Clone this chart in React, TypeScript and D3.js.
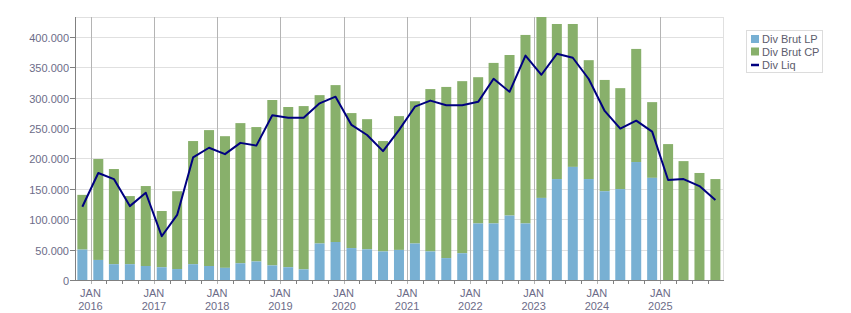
import * as d3 from "d3";

// quarterly dividends, in euros
const quarters = [
  "2015-11", "2016-02", "2016-05", "2016-08", "2016-11", "2017-02", "2017-05", "2017-08",
  "2017-11", "2018-02", "2018-05", "2018-08", "2018-11", "2019-02", "2019-05", "2019-08",
  "2019-11", "2020-02", "2020-05", "2020-08", "2020-11", "2021-02", "2021-05", "2021-08",
  "2021-11", "2022-02", "2022-05", "2022-08", "2022-11", "2023-02", "2023-05", "2023-08",
  "2023-11", "2024-02", "2024-05", "2024-08", "2024-11", "2025-02", "2025-05", "2025-08",
  "2025-11",
];

const divBrutLP = [
  50000, 33000, 26000, 26000, 23000, 21000, 18000, 26000, 23000, 20000, 27500, 30500,
  24000, 21000, 17500, 60000, 62500, 52500, 50500, 47000, 49500, 60000, 47000, 36000,
  44000, 93000, 93000, 106000, 93000, 135000, 166000, 186000, 166000, 146000, 149500,
  194000, 168000, 0, 0, 0, 0,
];

const divBrutCP = [
  90000, 166000, 156500, 112000, 131500, 92500, 128000, 202500, 223500, 216500, 230500,
  221000, 272000, 263500, 268500, 244000, 258000, 222000, 214000, 181500, 220000, 234000,
  267000, 281500, 283000, 240500, 264000, 264000, 310000, 298000, 255000, 235000, 195500,
  183000, 166000, 186000, 124500, 223500, 195500, 176000, 166000,
];

const divLiq = [
  120500, 176000, 166000, 121500, 143500, 72000, 107000, 201500, 217500, 207000, 225500,
  221000, 271000, 267000, 267000, 290500, 301500, 255000, 238500, 212000, 246500, 285000,
  295000, 287500, 287500, 293000, 331000, 309500, 369000, 337500, 372000, 365500, 330500,
  278000, 249000, 262000, 244000, 164500, 166000, 154500, 131500,
];

const yTicks = [0, 50000, 100000, 150000, 200000, 250000, 300000, 350000, 400000];
const years = [2016, 2017, 2018, 2019, 2020, 2021, 2022, 2023, 2024, 2025];
const seriesNames = ["Div Brut LP", "Div Brut CP", "Div Liq"];

const W = 851;
const H = 313;
const left = 76;
const right = 723;
const top = 17;
const bottom = 280;

const font = "'Liberation Sans', Arial, sans-serif";
const tickColor = "#6c6c88";
const blue = "#78b0d3";
const green = "#88b06b";
const navy = "#000080";

const locale = d3.formatLocale({ decimal: ",", thousands: ".", grouping: [3], currency: ["", ""] });
const fmt = locale.format(",d");

const parse = d3.timeParse("%Y-%m");
const dates = quarters.map((q) => d3.timeDay.offset(parse(q)!, 14));

export default function App() {
  // JAN 2016 and JAN 2025 pin the time axis
  const x = d3
    .scaleTime()
    .domain([new Date(2016, 0, 1), new Date(2025, 0, 1)])
    .range([90.5, 660.3]);
  const y = d3.scaleLinear().domain([0, 432500]).range([bottom, top]);

  const barW = 10;
  const minorTicks = d3
    .timeMonth.every(3)!
    .range(new Date(2015, 9, 1), new Date(2026, 0, 1))
    .filter((d) => d.getMonth() !== 0 && x(d) > left && x(d) < right);

  const line = d3
    .line<number>()
    .x((_, i) => x(dates[i]))
    .y((d) => y(d));

  return (
    <svg
      width={W}
      height={H}
      style={{ position: "absolute", left: 0, top: 0, fontFamily: font }}
    >
      <defs>
        <clipPath id="plot">
          <rect x={left} y={top} width={right - left} height={bottom - top} />
        </clipPath>
      </defs>

      {/* horizontal grid */}
      {yTicks.slice(1).map((t) => (
        <line
          key={t}
          x1={left}
          x2={right}
          y1={Math.round(y(t)) + 0.5}
          y2={Math.round(y(t)) + 0.5}
          stroke="#e0e0e0"
        />
      ))}
      <line x1={left} x2={right} y1={top + 0.5} y2={top + 0.5} stroke="#e0e0e0" />
      <line x1={right + 0.5} x2={right + 0.5} y1={top} y2={bottom} stroke="#e0e0e0" />

      {/* year lines */}
      {years.map((yr) => {
        const xv = Math.round(x(new Date(yr, 0, 1))) + 0.5;
        return <line key={yr} x1={xv} x2={xv} y1={top} y2={bottom + 4} stroke="#b4b4b4" />;
      })}

      <g clipPath="url(#plot)">
        {dates.map((d, i) => {
          const cx = x(d);
          return (
            <g key={quarters[i]}>
              <rect
                x={cx - barW / 2}
                y={y(divBrutLP[i] + divBrutCP[i])}
                width={barW}
                height={y(divBrutLP[i]) - y(divBrutLP[i] + divBrutCP[i])}
                fill={green}
              />
              {divBrutLP[i] > 0 && (
                <rect
                  x={cx - barW / 2}
                  y={y(divBrutLP[i])}
                  width={barW}
                  height={bottom - y(divBrutLP[i])}
                  fill={blue}
                />
              )}
            </g>
          );
        })}
        <path d={line(divLiq) ?? ""} fill="none" stroke={navy} strokeWidth={2} strokeLinejoin="round" />
      </g>

      {/* axes */}
      <line x1={left - 0.5} x2={left - 0.5} y1={top} y2={bottom + 1} stroke="#808080" />
      <line x1={left - 1} x2={right + 1} y1={bottom + 0.5} y2={bottom + 0.5} stroke="#808080" />
      {yTicks.map((t) => {
        const yv = Math.round(y(t)) + 0.5;
        return (
          <g key={t}>
            <line x1={left - 6} x2={left} y1={yv} y2={yv} stroke="#808080" />
            <text x={69} y={yv + 4} textAnchor="end" fontSize={11} fill={tickColor}>
              {fmt(t)}
            </text>
          </g>
        );
      })}
      {minorTicks.map((d) => {
        const xv = Math.round(x(d)) + 0.5;
        return <line key={+d} x1={xv} x2={xv} y1={bottom} y2={bottom + 4} stroke="#808080" />;
      })}
      {years.map((yr) => {
        const xv = x(new Date(yr, 0, 1));
        return (
          <text key={yr} x={xv} textAnchor="middle" fontSize={11} fill={tickColor}>
            <tspan x={xv} y={297}>JAN</tspan>
            <tspan x={xv} y={309.5}>{yr}</tspan>
          </text>
        );
      })}

      {/* legend */}
      <rect x={746.5} y={30.5} width={76} height={42} fill="#fff" stroke="#dcdcdc" />
      <rect x={751} y={35} width={8} height={8} fill={blue} />
      <rect x={751} y={47.5} width={8} height={8} fill={green} />
      <line x1={751} x2={759} y1={65} y2={65} stroke={navy} strokeWidth={2.5} />
      {seriesNames.map((n, i) => (
        <text key={n} x={762} y={43 + i * 12.8} fontSize={11} fill="#5c5c6c">
          {n}
        </text>
      ))}
    </svg>
  );
}
